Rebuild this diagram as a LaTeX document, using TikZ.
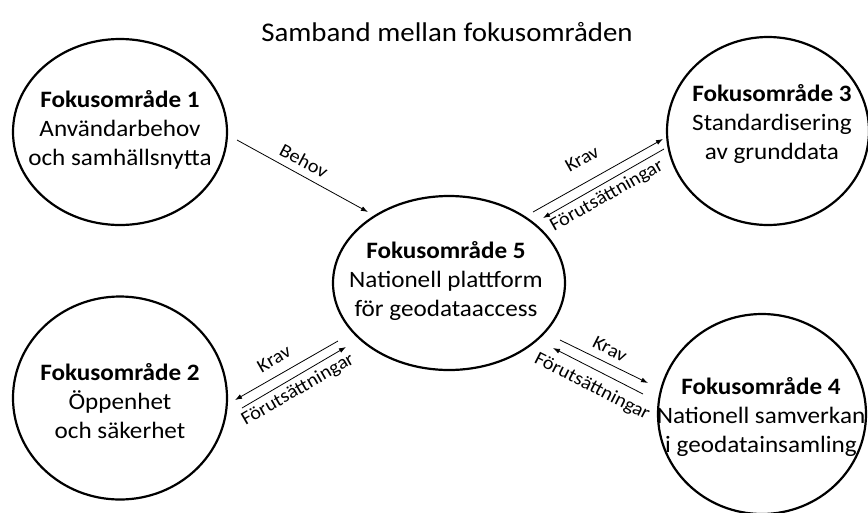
\documentclass[tikz,border=0pt]{standalone}
\usepackage{fontspec}
\setmainfont{Carlito}[FakeStretch=1.07]
\usetikzlibrary{shapes.geometric,arrows.meta}
\tikzset{
  area/.style={draw, line width=2.2pt, ellipse, inner sep=0pt},
  areatext/.style={align=center, font=\fontsize{23.5}{29}\selectfont},
  link/.style={line width=0.8pt, -{Latex[length=7pt,width=5pt]}},
  lbl/.style={font=\fontsize{19}{21}\selectfont, inner sep=0pt},
}
\begin{document}
\begin{tikzpicture}[x=1pt,y=-1pt]
\useasboundingbox (0,0) rectangle (868,512);
\clip (0,0) rectangle (868,512);
\node[font=\fontsize{27}{30}\selectfont] (title) at (447,32) {Samband mellan fokusområden};
% areas
\node[area, minimum width=214pt, minimum height=186pt] (c1) at (120,132) {};
\node[area, minimum width=214pt, minimum height=203pt] (c2) at (120,398) {};
\node[area, minimum width=202pt, minimum height=188pt] (c3) at (768,131) {};
\node[area, minimum width=208pt, minimum height=200pt] (c4) at (762,414) {};
\node[area, minimum width=232pt, minimum height=174pt] (c5) at (449,283) {};
% texts
\node[areatext] (t1) at (120,130) {\textbf{Fokusområde 1}\\Användarbehov\\och samhällsnytta};
\node[areatext] (t2) at (120,401) {\textbf{Fokusområde 2}\\Öppenhet\\och säkerhet};
\node[areatext] (t3) at (772,124) {\textbf{Fokusområde 3}\\Standardisering\\av grunddata};
\node[areatext] (t4) at (761,417) {\textbf{Fokusområde 4}\\Nationell samverkan\\i geodatainsamling};
\node[areatext] (t5) at (446,281) {\textbf{Fokusområde 5}\\Nationell plattform\\för geodataaccess};
% arrow end points
\coordinate (b1) at (237,140); \coordinate (b2) at (368,212);
\coordinate (k3a) at (533,212); \coordinate (k3b) at (663,139);
\coordinate (f3a) at (664,149); \coordinate (f3b) at (543,218);
\coordinate (k2a) at (338,341); \coordinate (k2b) at (235,400);
\coordinate (f2a) at (242,408); \coordinate (f2b) at (346,347);
\coordinate (k4a) at (560,340); \coordinate (k4b) at (648,383);
\coordinate (f4a) at (643,394); \coordinate (f4b) at (553,348);
% connectors
\draw[link] (b1) -- (b2);
\draw[link] (k3a) -- (k3b);
\draw[link] (f3a) -- (f3b);
\draw[link] (k2a) -- (k2b);
\draw[link] (f2a) -- (f2b);
\draw[link] (k4a) -- (k4b);
\draw[link] (f4a) -- (f4b);
% labels
\node[lbl, rotate=-28] (lb) at (304,161) {Behov};
\node[lbl, rotate=29.5] (lk3) at (582,159) {Krav};
\node[lbl, rotate=29.5] (lf3) at (607,196) {Förutsättningar};
\node[lbl, rotate=30] (lk2) at (274,359) {Krav};
\node[lbl, rotate=30] (lf2) at (298,390) {Förutsättningar};
\node[lbl, rotate=-27] (lk4) at (610,349) {Krav};
\node[lbl, rotate=-27] (lf4) at (592,387) {Förutsättningar};
\end{tikzpicture}
\end{document}
